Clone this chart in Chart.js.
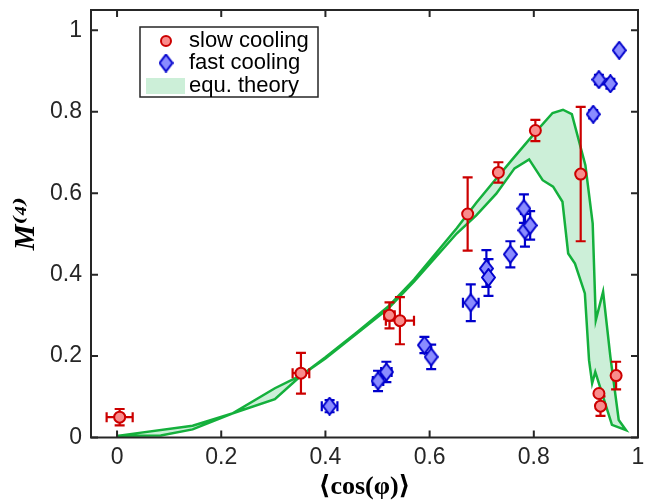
<!DOCTYPE html>
<html>
<head>
<meta charset="utf-8">
<script src="https://cdn.jsdelivr.net/npm/chart.js@4.4.1/dist/chart.umd.min.js"></script>
<style>
  body { margin: 0; background: #fff; }
  canvas { display: block; }
</style>
</head>
<body>
<canvas id="chart" width="647" height="504"></canvas>
<script>
// slow cooling (red circles)
const slowX    = [0.005, 0.353, 0.523, 0.543, 0.673, 0.732, 0.803, 0.890, 0.925, 0.928, 0.958];
const slowY    = [0.050, 0.158, 0.300, 0.287, 0.549, 0.651, 0.754, 0.647, 0.108, 0.077, 0.152];
const slowYErr = [0.020, 0.050, 0.032, 0.058, 0.090, 0.025, 0.026, 0.165, 0.000, 0.024, 0.034];
const slowXErr = [0.025, 0.016, 0.010, 0.027, 0, 0, 0, 0, 0, 0, 0];

// fast cooling (blue diamonds)
const fastX    = [0.408, 0.501, 0.517, 0.590, 0.603, 0.679, 0.709, 0.713, 0.755, 0.781, 0.783, 0.793, 0.914, 0.925, 0.947, 0.964];
const fastY    = [0.077, 0.139, 0.161, 0.227, 0.198, 0.331, 0.415, 0.393, 0.450, 0.562, 0.509, 0.521, 0.794, 0.879, 0.869, 0.951];
const fastYErr = [0.015, 0.025, 0.025, 0.020, 0.030, 0.045, 0.045, 0.045, 0.032, 0.035, 0.040, 0.035, 0.010, 0.012, 0.012, 0.006];
const fastXErr = [0.015, 0.010, 0.010, 0, 0, 0.015, 0, 0, 0, 0, 0, 0, 0, 0, 0, 0];

// equilibrium theory band
const upperX = [0.0, 0.145, 0.221, 0.303, 0.354, 0.40, 0.46, 0.52, 0.57, 0.652, 0.69, 0.728, 0.76, 0.80, 0.836, 0.856, 0.873, 0.899, 0.913, 0.919, 0.933, 0.947, 0.963, 0.977];
const upperY = [0.004, 0.029, 0.059, 0.121, 0.153, 0.197, 0.258, 0.321, 0.388, 0.514, 0.577, 0.636, 0.685, 0.745, 0.797, 0.805, 0.794, 0.669, 0.526, 0.288, 0.358, 0.198, 0.043, 0.018];
const lowerX = [0.0, 0.084, 0.145, 0.221, 0.303, 0.354, 0.40, 0.52, 0.57, 0.652, 0.69, 0.728, 0.763, 0.791, 0.817, 0.837, 0.855, 0.866, 0.879, 0.898, 0.906, 0.912, 0.918, 0.934, 0.95, 0.977];
const lowerY = [0.004, 0.005, 0.020, 0.059, 0.094, 0.153, 0.194, 0.316, 0.383, 0.501, 0.546, 0.599, 0.661, 0.683, 0.632, 0.616, 0.579, 0.452, 0.427, 0.354, 0.190, 0.133, 0.161, 0.096, 0.031, 0.018];

const xTicks = [0, 0.2, 0.4, 0.6, 0.8, 1];
const yTicks = [0, 0.2, 0.4, 0.6, 0.8, 1];
const labels = ['slow cooling', 'fast cooling', 'equ. theory'];

const RED = '#cc0000', RED_FILL = '#f98c8c';
const BLUE = '#0000cc', BLUE_FILL = '#8a8cff';
const GREEN = '#14b03c', GREEN_FILL = '#ccefd8';
const AXIS = '#262626';

function pts(xs, ys) { return xs.map((x, i) => ({ x: x, y: ys[i] })); }

// tall MATLAB-like diamond marker
function diamond(w, h) {
  const c = document.createElement('canvas');
  c.width = w; c.height = h;
  const g = c.getContext('2d');
  g.beginPath();
  g.moveTo(w / 2, 1); g.lineTo(w - 1, h / 2); g.lineTo(w / 2, h - 1); g.lineTo(1, h / 2);
  g.closePath();
  g.fillStyle = BLUE_FILL; g.fill();
  g.strokeStyle = BLUE; g.lineWidth = 2; g.stroke();
  return c;
}
const diamondImg = diamond(15, 19);

const errorBars = {
  id: 'errorBars',
  beforeDatasetDraw(chart, args) {
    const ds = chart.data.datasets[args.index];
    if (!ds.yErr) return;
    const ctx = chart.ctx, xs = chart.scales.x, ys = chart.scales.y;
    const cap = 5;
    ctx.save();
    ctx.strokeStyle = ds.errColor;
    ctx.lineWidth = 2.2;
    ctx.beginPath();
    ds.data.forEach((p, i) => {
      const px = xs.getPixelForValue(p.x), py = ys.getPixelForValue(p.y);
      const ye = ds.yErr[i], xe = ds.xErr[i];
      if (ye > 0) {
        const t = ys.getPixelForValue(p.y + ye), b = ys.getPixelForValue(p.y - ye);
        ctx.moveTo(px, t); ctx.lineTo(px, b);
        ctx.moveTo(px - cap, t); ctx.lineTo(px + cap, t);
        ctx.moveTo(px - cap, b); ctx.lineTo(px + cap, b);
      }
      if (xe > 0) {
        const l = xs.getPixelForValue(p.x - xe), r = xs.getPixelForValue(p.x + xe);
        ctx.moveTo(l, py); ctx.lineTo(r, py);
        ctx.moveTo(l, py - cap); ctx.lineTo(l, py + cap);
        ctx.moveTo(r, py - cap); ctx.lineTo(r, py + cap);
      }
    });
    ctx.stroke();
    ctx.restore();
  }
};

const frame = {
  id: 'frame',
  afterDatasetsDraw(chart) {
    const ctx = chart.ctx, a = chart.chartArea, x = chart.scales.x, y = chart.scales.y;
    const t = 7;
    ctx.save();
    ctx.strokeStyle = AXIS;
    ctx.lineWidth = 2;
    ctx.strokeRect(a.left, a.top, a.right - a.left, a.bottom - a.top);
    ctx.beginPath();
    xTicks.forEach(v => {
      const px = x.getPixelForValue(v);
      ctx.moveTo(px, a.bottom); ctx.lineTo(px, a.bottom - t);
      ctx.moveTo(px, a.top); ctx.lineTo(px, a.top + t);
    });
    yTicks.forEach(v => {
      const py = y.getPixelForValue(v);
      ctx.moveTo(a.left, py); ctx.lineTo(a.left + t, py);
      ctx.moveTo(a.right, py); ctx.lineTo(a.right - t, py);
    });
    ctx.stroke();
    ctx.restore();
  }
};

// boxed legend in the upper left, like the original
const boxLegend = {
  id: 'boxLegend',
  afterDraw(chart) {
    const ctx = chart.ctx;
    const bx = 140, by = 27, bw = 178, bh = 70;
    const mx = 166, tx = 189, rows = [41, 63, 86];
    ctx.save();
    ctx.fillStyle = '#fff';
    ctx.fillRect(bx, by, bw, bh);
    ctx.strokeStyle = AXIS;
    ctx.lineWidth = 1.5;
    ctx.strokeRect(bx, by, bw, bh);

    ctx.beginPath();
    ctx.arc(mx, rows[0], 5, 0, Math.PI * 2);
    ctx.fillStyle = RED_FILL; ctx.fill();
    ctx.strokeStyle = RED; ctx.lineWidth = 2; ctx.stroke();

    ctx.drawImage(diamondImg, mx - diamondImg.width / 2, rows[1] - diamondImg.height / 2);

    ctx.fillStyle = GREEN_FILL;
    ctx.fillRect(146, 78, 39, 16);

    ctx.fillStyle = '#000';
    ctx.font = '22px "Liberation Sans", Arial, sans-serif';
    ctx.textBaseline = 'middle';
    labels.forEach((s, i) => ctx.fillText(s, tx, rows[i]));
    ctx.restore();
  }
};

const tickFont = { family: '"Liberation Sans", Arial, sans-serif', size: 23 };
const fmt = v => String(Number(v.toFixed(1)));

new Chart(document.getElementById('chart'), {
  type: 'scatter',
  data: {
    datasets: [
      {
        label: labels[0],
        data: pts(slowX, slowY),
        yErr: slowYErr, xErr: slowXErr, errColor: RED,
        pointStyle: 'circle', pointRadius: 5.5, borderWidth: 2,
        borderColor: RED, backgroundColor: RED_FILL,
        order: 1
      },
      {
        label: labels[1],
        data: pts(fastX, fastY),
        yErr: fastYErr, xErr: fastXErr, errColor: BLUE,
        pointStyle: diamondImg, pointRadius: 8,
        borderColor: BLUE, backgroundColor: BLUE_FILL,
        order: 2
      },
      {
        type: 'line',
        label: labels[2],
        data: pts(upperX, upperY).concat(pts(lowerX, lowerY).reverse()),
        borderColor: GREEN, borderWidth: 2.5, backgroundColor: GREEN_FILL,
        fill: 'shape', pointRadius: 0, tension: 0,
        order: 3
      }
    ]
  },
  options: {
    responsive: false,
    animation: false,
    events: [],
    layout: { padding: { left: 0, right: 4, top: 10, bottom: 0 } },
    plugins: { legend: { display: false }, tooltip: { enabled: false } },
    scales: {
      x: {
        type: 'linear', min: -0.05, max: 1,
        afterBuildTicks: s => { s.ticks = xTicks.map(v => ({ value: v })); },
        afterFit: s => { s.height = 66.5; s.paddingLeft = 0; s.paddingRight = 0; },
        grid: { display: false, drawTicks: false },
        border: { display: false },
        ticks: { font: tickFont, color: AXIS, padding: 6, maxRotation: 0, callback: fmt },
        title: {
          display: true, text: '⟨cos(φ)⟩', color: '#000',
          font: { family: '"Liberation Serif", "DejaVu Serif", serif', size: 26, weight: 'bold' },
          padding: { top: 0, bottom: 1 }
        }
      },
      y: {
        type: 'linear', min: 0, max: 1.05,
        afterBuildTicks: s => { s.ticks = yTicks.map(v => ({ value: v })); },
        afterFit: s => { s.width = 91; s.paddingTop = 0; s.paddingBottom = 0; },
        grid: { display: false, drawTicks: false },
        border: { display: false },
        ticks: { font: tickFont, color: AXIS, padding: 9, callback: fmt },
        title: {
          display: true, text: 'M⁽⁴⁾', color: '#000',
          font: { family: '"Liberation Serif", "DejaVu Serif", serif', size: 29, weight: 'bold', style: 'italic' },
          padding: { top: 9, bottom: 0 }
        }
      }
    }
  },
  plugins: [errorBars, frame, boxLegend]
});
</script>
</body>
</html>
